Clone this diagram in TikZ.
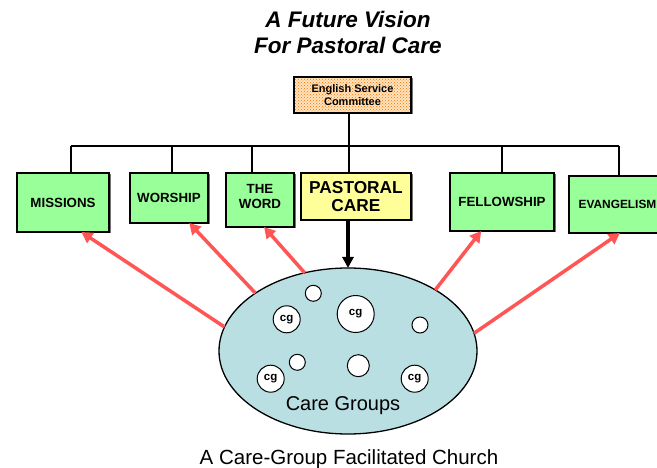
\documentclass[tikz,border=0pt]{standalone}
\usepackage{fontspec}
\setmainfont{Liberation Sans}
\usetikzlibrary{arrows.meta,shapes.geometric,calc,patterns,shadows}
\definecolor{boxgreen}{HTML}{99FF99}
\definecolor{boxyellow}{HTML}{FFFF99}
\definecolor{careblue}{HTML}{B9DFE3}
\definecolor{arrowred}{HTML}{FF5555}
\definecolor{peach}{HTML}{FFE4BC}
\begin{document}
\begin{tikzpicture}[x=1pt,y=-1pt,
  titletext/.style={font=\fontsize{22.5}{25}\selectfont\bfseries\itshape, inner sep=0pt, anchor=base},
  minbox/.style={draw=black, line width=1.5pt, inner sep=0pt, outer sep=0pt, align=center,
     drop shadow={shadow xshift=1.5pt, shadow yshift=-1.5pt, fill=black!55, opacity=1},
     font=\fontsize{13.3}{16}\selectfont\bfseries},
  greenbox/.style={minbox, fill=boxgreen},
  yellowbox/.style={minbox, fill=boxyellow, font=\fontsize{17.3}{20}\selectfont\bfseries},
  committeebox/.style={minbox, preaction={fill=peach}, pattern=crosshatch dots, pattern color=orange!85!red,
     font=\fontsize{11}{13.5}\selectfont\bfseries},
  treeline/.style={draw=black, line width=1.6pt},
  redarrow/.style={draw=arrowred, line width=3.5pt, -{Triangle[length=11pt,width=12pt]}},
  blackarrow/.style={draw=black, line width=3.5pt, -{Triangle[length=11pt,width=11pt]}},
  bubble/.style={circle, draw=black, line width=1pt, fill=white, inner sep=0pt, font=\fontsize{11.5}{12}\selectfont\bfseries},
]
\clip (0,0) rectangle (657,468);
\fill[white] (0,0) rectangle (657,468);

% title
\node[titletext] (title1) at (348,27.8) {A Future Vision};
\node[titletext] (title2) at (348,53.3) {For Pastoral Care};

% committee
\node[committeebox, minimum width=117pt, minimum height=36pt] (committee) at (352.5,95) {English Service\\Committee};

% ministry boxes
\node[greenbox, minimum width=92pt, minimum height=59pt] (missions) at (63,202.5) {MISSIONS};
\node[greenbox, minimum width=78pt, minimum height=50pt] (worship) at (169,198) {\raisebox{-4pt}{WORSHIP}};
\node[greenbox, minimum width=68pt, minimum height=54pt] (word) at (260,200) {\raisebox{6.5pt}{\shortstack{THE\\[2.5pt]WORD}}};
\node[yellowbox, minimum width=110pt, minimum height=47pt] (pastoral) at (356,196.5) {\raisebox{-2.5pt}{\shortstack{PASTORAL\\[3pt]CARE}}};
\node[greenbox, minimum width=104pt, minimum height=58pt] (fellowship) at (502,202) {FELLOWSHIP};
\node[greenbox, minimum width=106pt, minimum height=57pt, font=\fontsize{11.9}{14}\selectfont\bfseries] (evangelism) at (622,204.5) {\hspace*{-9pt}EVANGELISM};

% tree
\coordinate (busM) at (349,146);
\coordinate (busL) at (71,146);
\coordinate (busW) at (172,146);
\coordinate (busT) at (252,146);
\coordinate (busF) at (502,146);
\coordinate (busR) at (619,146);
\draw[treeline] (committee.south -| busM) -- (busM);
\draw[treeline] (busL) -- (busR);
\draw[treeline] (busL) -- (busL |- missions.north);
\draw[treeline] (busW) -- (busW |- worship.north);
\draw[treeline] (busT) -- (busT |- word.north);
\draw[treeline] (busM) -- (busM |- pastoral.north);
\draw[treeline] (busF) -- (busF |- fellowship.north);
\draw[treeline] (busR) -- (busR |- evangelism.north);

% care groups ellipse
\node[ellipse, draw=black, line width=1.3pt, fill=careblue, minimum width=258pt, minimum height=166pt, inner sep=0pt, outer sep=0pt] (care) at (348,351) {};
\node[bubble, minimum size=16pt] (c1) at (313.3,293.3) {};
\node[bubble, minimum size=27pt] (c2) at (286.7,319.3) {cg};
\node[bubble, minimum size=37pt] (c3) at (355.7,314) {cg};
\node[bubble, minimum size=16pt] (c4) at (420,325) {};
\node[bubble, minimum size=16pt] (c5) at (297.3,362.3) {};
\node[bubble, minimum size=22pt] (c6) at (358.3,365.7) {};
\node[bubble, minimum size=27pt] (c7) at (270.7,378.7) {cg};
\node[bubble, minimum size=27pt] (c8) at (414.7,378.7) {cg};
\node[font=\fontsize{20}{23}\selectfont, inner sep=0pt] (caregroups) at (343,406) {Care Groups};

% arrows
\draw[blackarrow] (care.north |- pastoral.south) -- (care.north);
\draw[redarrow] (care.169.4) -- ($(missions.south west)!0.70!(missions.south east)$);
\draw[redarrow] (care.148.5) -- ($(worship.south west)!0.76!(worship.south east)$);
\draw[redarrow] (care.119.5) -- ($(word.south west)!0.56!(word.south east)$);
\draw[redarrow] (care.35.6) -- ($(fellowship.south west)!0.30!(fellowship.south east)$);
\draw[redarrow] (care.8.6) -- ($(evangelism.south west)!0.48!(evangelism.south east)$);

% caption
\node[font=\fontsize{20.5}{24}\selectfont, inner sep=0pt] (caption) at (349,459) {A Care-Group Facilitated Church};
\end{tikzpicture}
\end{document}
